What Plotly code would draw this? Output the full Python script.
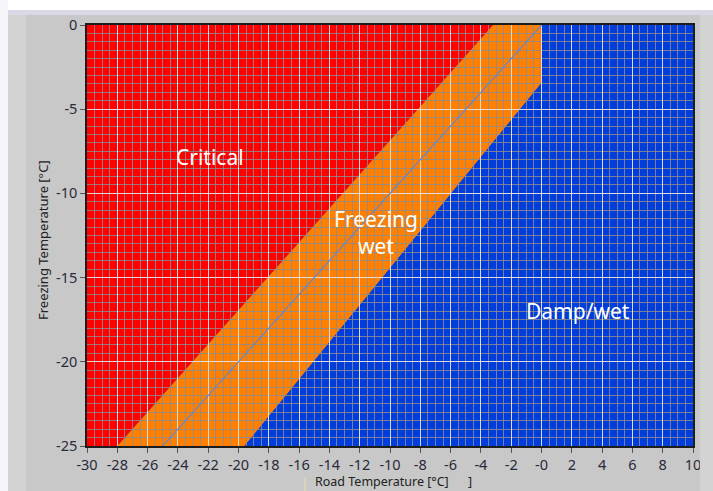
import plotly.graph_objects as go

# Axis tick values and labels
road_ticks = [-30, -28, -26, -24, -22, -20, -18, -16, -14, -12, -10, -8, -6, -4, -2, 0, 2, 4, 6, 8, 10]
road_tick_text = ["-30", "-28", "-26", "-24", "-22", "-20", "-18", "-16", "-14", "-12", "-10",
                  "-8", "-6", "-4", "-2", "-0", "2", "4", "6", "8", "10"]
freeze_ticks = [0, -5, -10, -15, -20, -25]
freeze_tick_text = ["0", "-5", "-10", "-15", "-20", "-25"]

# Axis extents
road_range = [-30, 10]
freeze_range = [-25, 0]

# Boundary between "Critical" and "Freezing wet"
critical_road = [-28.0, -3.2]
critical_freeze = [-25.0, 0.0]

# Boundary between "Freezing wet" and "Damp/wet"
damp_road = [-19.6, 0.0, 0.0]
damp_freeze = [-25.0, -3.45, 0.0]

# Reference line: road temperature equal to freezing temperature
ref_road = [-25, 0]
ref_freeze = [-25, 0]

# Region labels
labels = ["Critical", "Freezing<br>wet", "Damp/wet"]
label_road = [-21.9, -10.9, 2.4]
label_freeze = [-7.85, -12.35, -17.0]

RED = "#ff0000"
ORANGE = "#ff8000"
BLUE = "#003ddc"


def path(xs, ys):
    pts = [f"{x},{y}" for x, y in zip(xs, ys)]
    return "M " + " L ".join(pts) + " Z"


x0, x1 = road_range
y0, y1 = freeze_range

critical_x = [x0] + critical_road + [x0]
critical_y = [y0] + critical_freeze + [y1]

freezing_x = critical_road[:1] + damp_road + critical_road[1:]
freezing_y = critical_freeze[:1] + damp_freeze + critical_freeze[1:]

damp_x = damp_road[:1] + [x1, x1] + damp_road[::-1][:-1]
damp_y = damp_freeze[:1] + [y0, y1] + damp_freeze[::-1][:-1]

shapes = []
for xs, ys, col in [(critical_x, critical_y, RED),
                    (freezing_x, freezing_y, ORANGE),
                    (damp_x, damp_y, BLUE)]:
    shapes.append(dict(type="path", path=path(xs, ys), xref="x", yref="y",
                       fillcolor=col, line=dict(width=0), layer="below"))

# Panel frame decorations (paper coordinates, plot area 606 x 421 px)
W, H = 606.0, 421.0
def px_x(p):
    return (p - 87) / W
def px_y(p):
    return (446 - p) / H

frame = [
    # white strip along the top and left edge
    dict(x0=px_x(0), x1=px_x(713), y0=px_y(10), y1=px_y(0), fill="#ffffff"),
    dict(x0=px_x(0), x1=px_x(8), y0=px_y(491), y1=px_y(0), fill="#f6f6fa"),
    # lighter bevel bands
    dict(x0=px_x(8), x1=px_x(26), y0=px_y(491), y1=px_y(10), fill="#d3d3d3"),
    dict(x0=px_x(700), x1=px_x(713), y0=px_y(491), y1=px_y(10), fill="#d3d3d3"),
    dict(x0=px_x(8), x1=px_x(713), y0=px_y(15), y1=px_y(10), fill="#d9d9e6"),
]
for f in frame:
    shapes.append(dict(type="rect", xref="paper", yref="paper",
                       x0=f["x0"], x1=f["x1"], y0=f["y0"], y1=f["y1"],
                       fillcolor=f["fill"], line=dict(width=0), layer="above"))
shapes.append(dict(type="line", xref="paper", yref="paper",
                   x0=px_x(305), x1=px_x(305), y0=px_y(491), y1=px_y(477),
                   line=dict(color="#e6e0a8", width=1), layer="above"))

fig = go.Figure()
fig.add_trace(go.Scatter(x=ref_road, y=ref_freeze, mode="lines",
                         line=dict(color="#6f86c2", width=1.3),
                         hoverinfo="skip", showlegend=False))

annotations = []
for t, x, y in zip(labels, label_road, label_freeze):
    annotations.append(dict(text=t, x=x, y=y, xref="x", yref="y", showarrow=False,
                            font=dict(family="Noto Sans", size=21, color="#ffffff")))

annotations.append(dict(text="Road Temperature [°C]", xref="paper", yref="paper",
                        x=px_x(314), y=px_y(491), xanchor="left", yanchor="bottom",
                        showarrow=False, borderpad=0,
                        font=dict(family="Noto Sans", size=12.5, color="#222222")))
annotations.append(dict(text="]", xref="paper", yref="paper",
                        x=px_x(467), y=px_y(491), xanchor="left", yanchor="bottom",
                        showarrow=False, borderpad=0,
                        font=dict(family="Noto Sans", size=12.5, color="#222222")))
annotations.append(dict(text="Freezing Temperature [°C]", xref="paper", yref="paper",
                        x=px_x(43), y=px_y(240), xanchor="center", yanchor="middle",
                        textangle=-90, showarrow=False,
                        font=dict(family="Noto Sans", size=13, color="#222222")))

axis_common = dict(
    showgrid=True, gridcolor="rgba(236,236,236,0.85)", gridwidth=1,
    zeroline=False, showline=True, mirror=True, linecolor="#1c1c1c", linewidth=1.5,
    ticks="outside", ticklen=5, tickwidth=1, tickcolor="#555555",
    tickfont=dict(family="Noto Sans", size=14.5, color="#2a2a3a"),
    tickmode="array",
)

fig.update_layout(
    width=713, height=491,
    margin=dict(l=87, r=20, t=25, b=45),
    paper_bgcolor="#c8c8c8",
    plot_bgcolor=BLUE,
    showlegend=False,
    shapes=shapes,
    annotations=annotations,
    xaxis=dict(range=road_range, tickvals=road_ticks, ticktext=road_tick_text,
               minor=dict(tickmode="linear", tick0=-30, dtick=0.5, showgrid=True,
                          gridcolor="rgba(140,140,140,0.85)", gridwidth=1, ticks=""),
               **axis_common),
    yaxis=dict(range=freeze_range, tickvals=freeze_ticks, ticktext=freeze_tick_text,
               minor=dict(tickmode="linear", tick0=-25, dtick=0.5, showgrid=True,
                          gridcolor="rgba(140,140,140,0.85)", gridwidth=1, ticks=""),
               **axis_common),
)

fig.write_html("out.html")
